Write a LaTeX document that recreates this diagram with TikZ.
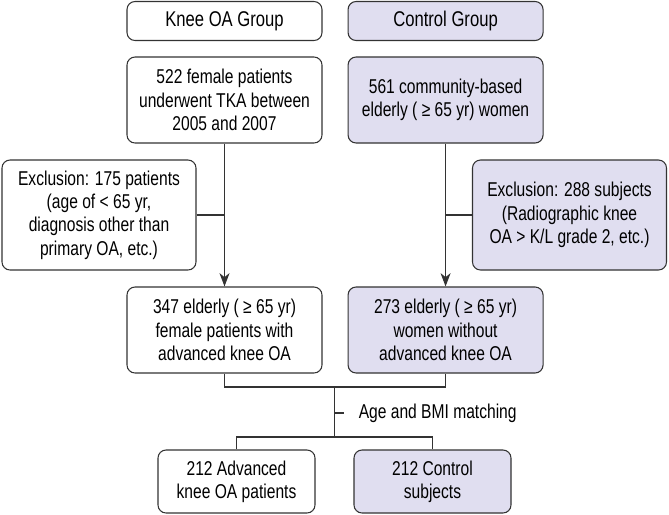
\documentclass[tikz,border=0pt]{standalone}
\usepackage{fontspec}
\setmainfont[FakeStretch=0.78]{Liberation Sans}
\usetikzlibrary{positioning, arrows.meta}
\definecolor{ctrlfill}{RGB}{224,222,240}
\definecolor{edgegray}{RGB}{51,51,51}

\begin{document}
\begin{tikzpicture}[
    x=0.75pt, y=-0.75pt,
    box/.style={draw=edgegray, line width=0.8pt, rounded corners=6pt, align=center, inner sep=2pt, font=\fontsize{15}{17.5}\selectfont},
    grpbox/.style={box, minimum width=146.25pt, minimum height=29.25pt, font=\fontsize{16}{17.5}\selectfont},
    tallbox/.style={box, minimum width=146.25pt, minimum height=64.5pt},
    exbox/.style={box, minimum width=145.5pt, minimum height=82.5pt},
    endbox/.style={box, minimum width=117.75pt, minimum height=47.25pt},
    ctrl/.style={fill=ctrlfill},
    link/.style={draw=edgegray, line width=0.8pt},
    >={Stealth[length=10pt, width=7.5pt, inset=3pt]}
  ]
  \useasboundingbox (0,0) rectangle (669,515);

%% group headers
  \node[grpbox] (knee) at (224.5,21) {Knee OA Group};
  \node[grpbox, ctrl, right=18.75pt of knee] (control) {Control Group};

%% recruited women
  \node[tallbox] (tka) at (224.5,100) {522 female patients\\underwent TKA between\\2005 and 2007};
  \node[tallbox, ctrl, right=18.75pt of tka] (comm) {561 community-based\\elderly ( ≥ 65 yr) women};

%% exclusions, hooked onto the vertical lines
  \node[exbox] (exL) at (99,215) {Exclusion: 175 patients\\(age of < 65 yr,\\diagnosis other than\\primary OA, etc.)};
  \node[exbox, ctrl] (exR) at (569.5,215) {Exclusion: 288 subjects\\(Radiographic knee\\OA > K/L grade 2, etc.)};

  \node[tallbox] (oa) at (224.5,330) {347 elderly ( ≥ 65 yr)\\female patients with\\advanced knee OA};
  \node[tallbox, ctrl, right=18.75pt of oa] (noa) {273 elderly ( ≥ 65 yr)\\women without\\advanced knee OA};

%% matched groups
  \node[endbox] (aoa) at (236.5,481.5) {212 Advanced\\knee OA patients};
  \node[endbox, ctrl] (csub) at (432.5,481.5) {212 Control\\subjects};

  \draw[link, ->] (tka) -- (oa);
  \draw[link] (exL.east) -- (exL.east -| tka.south);
  \draw[link, ->] (comm) -- (noa);
  \draw[link] (exR.west) -- (exR.west -| comm.south);

  \coordinate (join) at (334.5,387);
  \coordinate (split) at (334.5,437);
  \coordinate (tick) at (334.5,413);
  \draw[link] (oa.south) |- (join) -| (noa.south);
  \draw[link] (join) -- (split);
  \draw[link] (aoa.north) |- (split) -| (csub.north);
  \draw[link] (tick) -- ++(9,0) coordinate (tickend);
  \node[anchor=west, inner sep=0pt, font=\fontsize{15}{17.5}\selectfont, right=11.25pt of tickend] (match) {Age and BMI matching};

\end{tikzpicture}
\end{document}
